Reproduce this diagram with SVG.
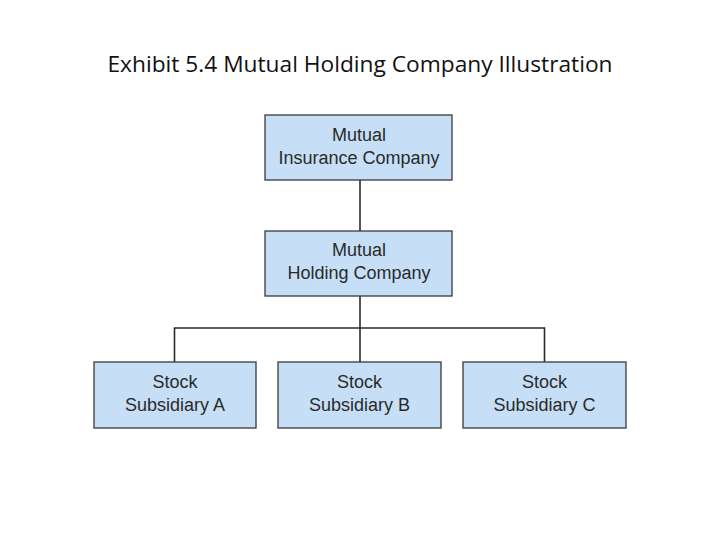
<svg xmlns="http://www.w3.org/2000/svg" width="720" height="540" viewBox="0 0 720 540">
<style>
.box{fill:#c6dff6;stroke:#3a3a3a;stroke-width:1.3}
.lbl{font-family:"Liberation Sans",Arial,sans-serif;font-size:18px;fill:#2a2a2a;text-anchor:middle}
.con{stroke:#2a2a2a;stroke-width:1.6;fill:none}
.title{font-family:"Open Sans","Noto Sans",sans-serif;font-size:21px;fill:#111;text-anchor:middle}
</style>
<rect width="720" height="540" fill="#fff"/>
<text class="title" x="360" y="72" textLength="505" lengthAdjust="spacingAndGlyphs">Exhibit 5.4 Mutual Holding Company Illustration</text>
<g id="connectors">
<line class="con" x1="360" y1="180" x2="360" y2="231"/>
<line class="con" x1="360" y1="296" x2="360" y2="362"/>
<polyline class="con" points="174.5,362 174.5,328 544.5,328 544.5,362"/>
</g>
<g id="mutual-insurance">
<rect class="box" x="265" y="115" width="187" height="65"/>
<text class="lbl" x="359" y="141">Mutual</text>
<text class="lbl" x="359" y="164">Insurance Company</text>
</g>
<g id="mutual-holding">
<rect class="box" x="265" y="231" width="187" height="65"/>
<text class="lbl" x="359" y="256">Mutual</text>
<text class="lbl" x="359" y="279">Holding Company</text>
</g>
<g id="sub-a">
<rect class="box" x="94" y="362" width="162" height="66"/>
<text class="lbl" x="175" y="388">Stock</text>
<text class="lbl" x="175" y="411">Subsidiary A</text>
</g>
<g id="sub-b">
<rect class="box" x="278" y="362" width="163" height="66"/>
<text class="lbl" x="359.5" y="388">Stock</text>
<text class="lbl" x="359.5" y="411">Subsidiary B</text>
</g>
<g id="sub-c">
<rect class="box" x="463" y="362" width="163" height="66"/>
<text class="lbl" x="544.5" y="388">Stock</text>
<text class="lbl" x="544.5" y="411">Subsidiary C</text>
</g>
</svg>
